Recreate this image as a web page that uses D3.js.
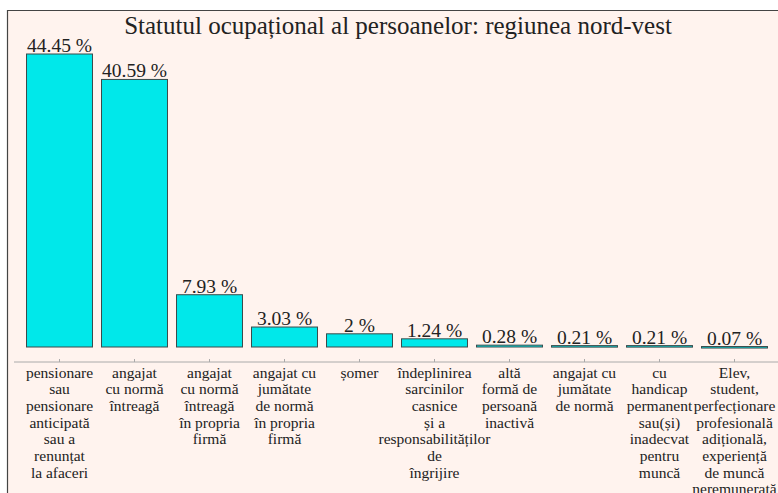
<!DOCTYPE html>
<html><head><meta charset="utf-8">
<script src="https://cdn.jsdelivr.net/npm/d3@7"></script>
<style>html,body{margin:0;padding:0;background:#fff;}svg{display:block;}</style>
</head><body>
<svg id="chart" width="778" height="493"></svg>
<script>
const title = "Statutul ocupațional al persoanelor: regiunea nord-vest";
const categories = [
  "pensionare\nsau\npensionare\nanticipată\nsau a\nrenunțat\nla afaceri",
  "angajat\ncu normă\nîntreagă",
  "angajat\ncu normă\nîntreagă\nîn propria\nfirmă",
  "angajat cu\njumătate\nde normă\nîn propria\nfirmă",
  "șomer",
  "îndeplinirea\nsarcinilor\ncasnice\nși a\nresponsabilităților\nde\nîngrijire",
  "altă\nformă de\npersoană\ninactivă",
  "angajat cu\njumătate\nde normă",
  "cu\nhandicap\npermanent\nsau(și)\ninadecvat\npentru\nmuncă",
  "Elev,\nstudent,\nperfecționare\nprofesională\nadițională,\nexperiență\nde muncă\nneremunerată"
];
const values = [44.45, 40.59, 7.93, 3.03, 2, 1.24, 0.28, 0.21, 0.21, 0.07];
const valueLabels = ["44.45 %", "40.59 %", "7.93 %", "3.03 %", "2 %", "1.24 %", "0.28 %", "0.21 %", "0.21 %", "0.07 %"];

const svg = d3.select("#chart");
const font = "'Liberation Serif','Times New Roman',serif";

// panel background & frame
svg.append("rect").attr("x", 7).attr("y", 10).attr("width", 800).attr("height", 500)
  .attr("fill", "#fff3ee");
svg.append("line").attr("x1", 7).attr("x2", 778).attr("y1", 10.5).attr("y2", 10.5)
  .attr("stroke", "#444").attr("stroke-width", 1.2);
svg.append("line").attr("x1", 7.5).attr("x2", 7.5).attr("y1", 10).attr("y2", 493)
  .attr("stroke", "#444").attr("stroke-width", 1.2);

svg.append("text").attr("x", 398).attr("y", 34).attr("text-anchor", "middle")
  .attr("font-family", font).attr("font-size", 25).attr("fill", "#222").text(title);

const x = d3.scaleBand().domain(d3.range(categories.length)).range([22, 772])
  .paddingInner(0.107).paddingOuter(0.0535);
const y = d3.scaleLinear().domain([0, 44.45]).range([347, 54]);

svg.append("g").selectAll("rect").data(values).join("rect")
  .attr("x", (d, i) => x(i) + 0.5)
  .attr("y", d => y(d))
  .attr("width", x.bandwidth() - 1)
  .attr("height", d => Math.max(1.5, y(0) - y(d)))
  .attr("fill", "#00e8ea").attr("stroke", "#3a4a4a").attr("stroke-width", 1);

svg.append("g").selectAll("text").data(values).join("text")
  .attr("x", (d, i) => x(i) + x.bandwidth() / 2)
  .attr("y", d => y(d) - 2)
  .attr("text-anchor", "middle").attr("font-family", font).attr("font-size", 19.5)
  .attr("fill", "#222").text((d, i) => valueLabels[i]);

// x axis
svg.append("line").attr("x1", 14).attr("x2", 778).attr("y1", 362).attr("y2", 362)
  .attr("stroke", "#aaa").attr("stroke-width", 1);
const axis = d3.axisBottom(x).tickSizeInner(-3).tickSizeOuter(0).tickFormat("");
const gx = svg.append("g").attr("transform", "translate(0,362)").call(axis);
gx.select(".domain").remove();
gx.selectAll(".tick line").attr("stroke", "#aaa");

const lab = svg.append("g").selectAll("text").data(categories).join("text")
  .attr("x", (d, i) => x(i) + x.bandwidth() / 2)
  .attr("y", 377.5)
  .attr("text-anchor", "middle").attr("font-family", font).attr("font-size", 15.5)
  .attr("fill", "#222");
lab.each(function(d, i) {
  const t = d3.select(this);
  d.split("\n").forEach((line, k) => {
    t.append("tspan").attr("x", x(i) + x.bandwidth() / 2).attr("dy", k === 0 ? 0 : 16.7).text(line);
  });
});
</script>
</body></html>
